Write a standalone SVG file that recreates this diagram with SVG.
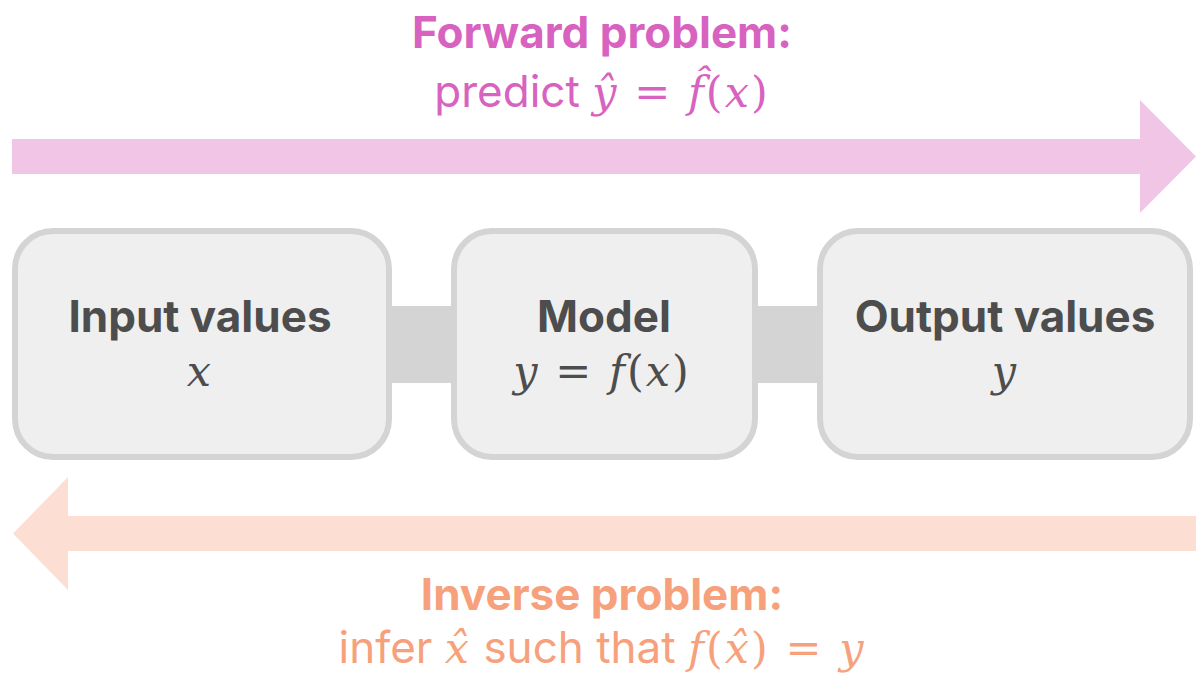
<svg xmlns="http://www.w3.org/2000/svg" width="1196" height="677" viewBox="0 0 1196 677">
  <style>
    .box { fill: #efefef; stroke: #d4d4d4; stroke-width: 6; }
    .link { fill: #d4d4d4; }
    .label { font-family: Inter, "Noto Sans", "Liberation Sans", sans-serif; font-weight: 700; font-size: 44px; fill: #4d4d4d; text-anchor: middle; }
    .math { font-family: "DejaVu Serif", "Liberation Serif", serif; font-size: 43px; letter-spacing: 2px; fill: #4d4d4d; text-anchor: middle; }
    .it { font-style: italic; }
    .title { font-family: Inter, "Noto Sans", "Liberation Sans", sans-serif; font-weight: 700; font-size: 44px; text-anchor: middle; }
    .sub { font-family: Inter, "Noto Sans", "Liberation Sans", sans-serif; font-weight: 400; font-size: 44px; text-anchor: middle; }
    .m { font-family: "DejaVu Serif", "Liberation Serif", serif; font-size: 43px; letter-spacing: 2px; }
    .fwd { fill: #d862c0; }
    .inv { fill: #f7a17c; }
  </style>

  <!-- forward arrow (left to right) -->
  <g id="forward-arrow">
    <polygon points="12,139 1140,139 1140,100 1196,156.5 1140,213 1140,174 12,174" fill="#f0c5e6"/>
  </g>

  <!-- inverse arrow (right to left) -->
  <g id="inverse-arrow">
    <polygon points="1196,516 68,516 68,477 13,533.5 68,590 68,551 1196,551" fill="#fcdfd2"/>
  </g>

  <!-- connectors between nodes -->
  <g id="connectors">
    <rect class="link" x="388" y="306" width="67" height="77"/>
    <rect class="link" x="754" y="306" width="67" height="77"/>
  </g>

  <g id="node-input">
    <rect class="box" x="15" y="231" width="374" height="226" rx="38"/>
    <text class="label" x="200" y="332">Input values</text>
    <text class="math" x="200" y="386"><tspan class="it">x</tspan></text>
  </g>

  <g id="node-model">
    <rect class="box" x="454" y="231" width="301" height="226" rx="38"/>
    <text class="label" x="604" y="332">Model</text>
    <text class="math" x="602" y="386"><tspan class="it">y</tspan> = <tspan class="it">f</tspan>(<tspan class="it">x</tspan>)</text>
  </g>

  <g id="node-output">
    <rect class="box" x="820" y="231" width="370" height="226" rx="38"/>
    <text class="label" x="1005" y="332">Output values</text>
    <text class="math" x="1005" y="386"><tspan class="it">y</tspan></text>
  </g>

  <g id="forward-label">
    <text class="title fwd" x="602" y="48">Forward problem:</text>
    <text class="sub fwd" x="602" y="107">predict <tspan class="m it">ŷ</tspan><tspan class="m"> = </tspan><tspan class="m it">f̂</tspan><tspan class="m">(</tspan><tspan class="m it">x</tspan><tspan class="m">)</tspan></text>
  </g>

  <g id="inverse-label">
    <text class="title inv" x="602" y="610">Inverse problem:</text>
    <text class="sub inv" x="602" y="663">infer <tspan class="m it">x̂</tspan> such that <tspan class="m it">f</tspan><tspan class="m">(</tspan><tspan class="m it">x̂</tspan><tspan class="m">) = </tspan><tspan class="m it">y</tspan></text>
  </g>
</svg>
